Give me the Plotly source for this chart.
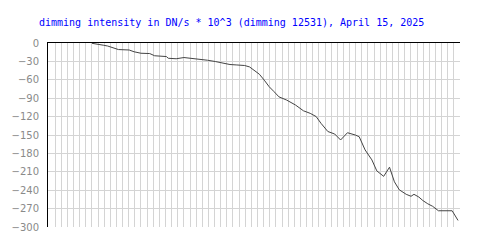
import plotly.graph_objects as go

# x positions (grid units, 67 grid intervals across the plot) and dimming values (DN/s * 10^3)
x_vals = [7.02, 7.98, 8.93, 9.57, 10.53, 11.33, 13.08, 13.88, 15.0, 16.43, 17.23, 19.14, 19.46,
          20.74, 22.01, 23.13, 24.73, 25.84, 27.12, 28.24, 29.51, 30.63, 31.9, 32.7, 33.5, 34.3,
          35.1, 35.89, 36.69, 37.49, 38.76, 40.2, 41.48, 42.59, 43.55, 44.35, 45.46, 46.58, 47.54,
          48.66, 49.93, 50.57, 51.53, 52.64, 53.44, 54.56, 55.51, 56.31, 57.11, 58.23, 59.02, 59.5,
          60.3, 60.94, 61.74, 62.53, 63.49, 65.72, 66.68]
y_vals = [-0.5, -1.6, -3.7, -4.9, -7.8, -10.7, -11.4, -14.3, -16.7, -17.2, -20.8, -22.1, -24.9,
          -25.7, -23.7, -24.9, -26.0, -28.1, -30.2, -33.0, -35.1, -35.8, -36.7, -39.0, -44.4, -50.9,
          -60.6, -71.2, -79.3, -87.8, -93.1, -101.2, -110.5, -114.7, -119.9, -131.0, -144.3, -148.4,
          -158.1, -146.3, -150.0, -152.8, -174.3, -190.6, -208.5, -217.4, -202.5, -226.3, -239.4,
          -246.7, -249.9, -246.7, -251.2, -256.8, -262.1, -266.2, -273.5, -273.5, -289.3]
y_ticks = [0, -30, -60, -90, -120, -150, -180, -210, -240, -270, -300]
title_text = "dimming intensity in DN/s * 10^3 (dimming 12531), April 15, 2025"

fig = go.Figure()
fig.add_trace(go.Scatter(x=x_vals, y=y_vals, mode="lines",
                         line=dict(color="#444444", width=1), hoverinfo="skip"))

fig.update_layout(
    width=500, height=250,
    margin=dict(l=40, r=40, t=43, b=23),
    paper_bgcolor="white", plot_bgcolor="white",
    showlegend=False,
    title=dict(text=title_text, x=39/500, xref="container", xanchor="left",
               y=1-22/250, yref="container", yanchor="middle",
               font=dict(family="DejaVu Sans Mono", size=10, color="#0000ff")),
    xaxis=dict(range=[-0.15, 67], dtick=1, tick0=0, showgrid=True, gridcolor="#d4d4d4",
               gridwidth=1.3, showticklabels=False, ticks="", zeroline=False,
               side="top", showline=True, linecolor="black", linewidth=1),
    yaxis=dict(range=[-300, 0], tickvals=y_ticks, ticktext=[str(v).replace("-", "\u2212") for v in y_ticks],
               showgrid=True, gridcolor="#d4d4d4", gridwidth=1.3, zeroline=False,
               showline=True, linecolor="black", linewidth=1, ticks="", ticklabelstandoff=6,
               tickfont=dict(family="DejaVu Sans", size=10, color="#8a8a8a")),
)

fig.write_html("out.html")
